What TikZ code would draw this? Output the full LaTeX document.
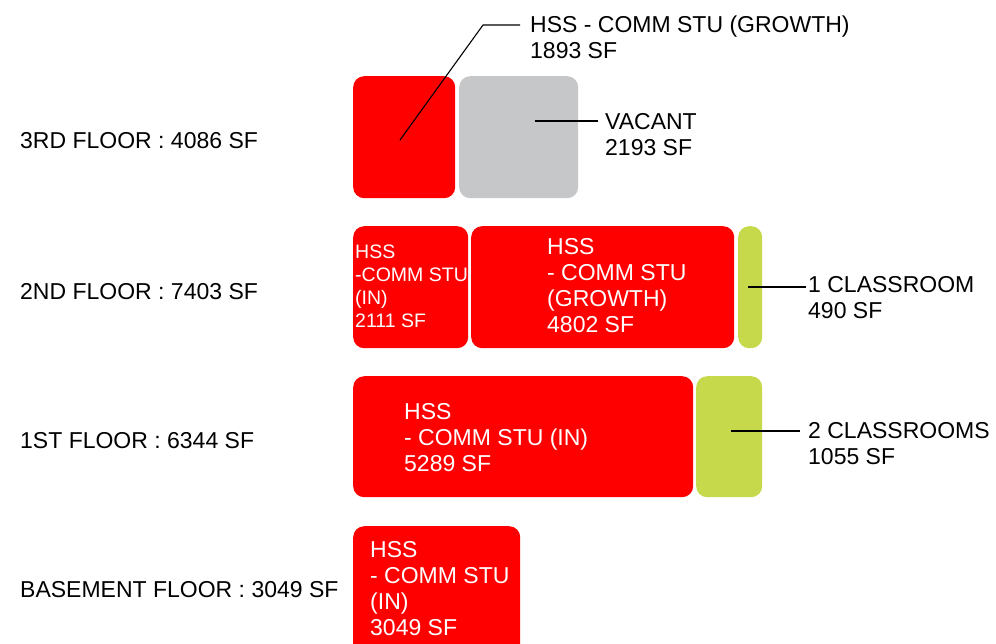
\documentclass[tikz,border=0pt]{standalone}
\usepackage{fontspec}
\setmainfont{Liberation Sans}
\usetikzlibrary{positioning}
\definecolor{hssred}{RGB}{255,0,0}
\definecolor{vacantgray}{RGB}{198,199,201}
\definecolor{classgreen}{RGB}{198,217,74}

\begin{document}
\begin{tikzpicture}[x=1pt, y=-1pt,
    room/.style={rounded corners=11pt, inner sep=0pt, anchor=north west},
    hss/.style={room, fill=hssred},
    vacant/.style={room, fill=vacantgray},
    classrm/.style={room, fill=classgreen},
    floorlbl/.style={anchor=west, inner sep=0pt, font=\fontsize{23}{26}\selectfont},
    intxt/.style={anchor=west, inner sep=0pt, align=left, text=white, font=\fontsize{23}{26}\selectfont},
    outtxt/.style={anchor=west, inner sep=0pt, align=left, font=\fontsize{23}{26}\selectfont},
    leader/.style={line width=1.1pt}]
  \useasboundingbox (0,0) rectangle (996,643);

  % floor totals
  \node[floorlbl] (f3) at (20,141) {3RD FLOOR : 4086 SF};
  \node[floorlbl] (f2) at (20,292) {2ND FLOOR : 7403 SF};
  \node[floorlbl] (f1) at (20,441) {1ST FLOOR : 6344 SF};
  \node[floorlbl] (fb) at (20,590) {BASEMENT FLOOR : 3049 SF};

  % 3rd floor
  \node[hss, minimum width=102, minimum height=122] (hss3) at (353,76) {};
  \node[vacant, minimum width=119, minimum height=122] (vac3) at (459,76) {};
  \coordinate (hss3pin) at (400,140);
  \coordinate (hss3end) at (520,25);
  \node[outtxt] (hss3lbl) at (530,37) {HSS - COMM STU (GROWTH)\\1893 SF};
  \draw[leader] (hss3pin) -- (483,25) -- (hss3end);
  \coordinate (vac3pin) at (535,121);
  \node[outtxt] (vac3lbl) at (605,135) {VACANT\\2193 SF};
  \draw[leader] (vac3pin) -- (598,121);

  % 2nd floor
  \node[hss, minimum width=115, minimum height=122] (hss2a) at (353,226) {};
  \node[hss, minimum width=263, minimum height=122] (hss2b) at (471,226) {};
  \node[classrm, minimum width=24, minimum height=122] (cls2) at (738,226) {};
  \node[intxt, font=\fontsize{19.5}{23}\selectfont] (hss2atxt) at (355,286) {HSS\\-COMM STU\\(IN)\\2111 SF};
  \node[intxt] (hss2btxt) at (547,286) {HSS\\- COMM STU\\(GROWTH)\\4802 SF};
  \coordinate (cls2pin) at (748,287);
  \node[outtxt] (cls2lbl) at (808,298) {1 CLASSROOM\\490 SF};
  \draw[leader] (cls2pin) -- (806,287);

  % 1st floor
  \node[hss, minimum width=340, minimum height=121] (hss1) at (353,376) {};
  \node[classrm, minimum width=66, minimum height=121] (cls1) at (696,376) {};
  \node[intxt] (hss1txt) at (404,438) {HSS\\- COMM STU (IN)\\5289 SF};
  \coordinate (cls1pin) at (731,431);
  \node[outtxt] (cls1lbl) at (808,444) {2 CLASSROOMS\\1055 SF};
  \draw[leader] (cls1pin) -- (800,431);

  % basement
  \node[hss, minimum width=167, minimum height=135] (hssb) at (353,526) {};
  \node[intxt] (hssbtxt) at (370,589) {HSS\\- COMM STU\\(IN)\\3049 SF};
\end{tikzpicture}
\end{document}
